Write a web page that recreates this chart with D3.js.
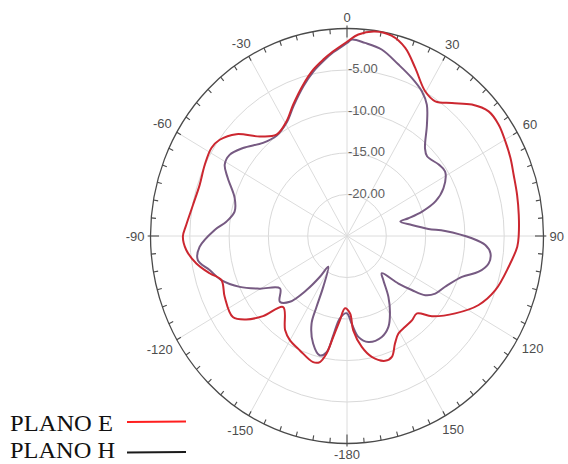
<!DOCTYPE html>
<html>
<head>
<meta charset="utf-8">
<script src="https://cdn.jsdelivr.net/npm/d3@7"></script>
<style>
  html, body { margin: 0; padding: 0; background: #ffffff; }
  svg { display: block; }
</style>
</head>
<body>
<svg id="chart" width="568" height="464"></svg>
<script>
// Radiation pattern, gain in dB versus angle (degrees, clockwise from 0 at the top)
const eAngles = [0, 3.4, 8.2, 13.2, 18.1, 23.2, 29.7, 34.7, 39.8, 45.1, 50.2, 55.2, 60.5, 65.7, 70.8,
  77.1, 83.4, 89.7, 93.4, 100.2, 109.1, 116.4, 124.1, 131.8, 136.3, 140.9, 145.9, 150.9, 154.7, 158.6,
  162.1, 167.8, 172.0, 176.0, 177.6, 181.7, 185.1, 188.2, 190.4, 192.8, 195.8, 203.5, 210.1, 214.8, 223.5,
  227.9, 231.9, 236.1, 244.8, 251.6, 255.6, 260.2, 265.3, 269.8, 273.7, 280.8, 288.2, 295.4, 301.6, 305.6,
  311.1, 317.2, 323.7, 330.8, 336.6, 343.0, 347.9, 351.9, 355.5];
const eGain = [-1.6, -0.68, -0.1, -0.2, -1.15, -2.97, -4.93, -5.27, -4.15, -2.57, -1.55, -1.5, -1.85, -2.18, -2.55,
  -2.8, -3.0, -3.15, -3.3, -4.1, -5.03, -6.3, -8.37, -10.5, -12.1, -11.9, -11.8, -11.55, -10.7, -9.35,
  -9.2, -10.1, -11.5, -13.6, -15.65, -16.3, -14.8, -12.7, -10.6, -9.43, -9.2, -9.97, -10.5, -11.2, -13.2,
  -10.6, -8.7, -7.5, -7.8, -8.16, -6.95, -5.55, -4.48, -4.12, -4.5, -5.05, -5.27, -4.97, -4.75, -5.08,
  -6.33, -8.65, -9.85, -9.2, -7.75, -5.93, -4.5, -3.53, -2.68];

const hAngles = [0, 1.5, 5.6, 11.1, 17.6, 23.4, 28.7, 32.7, 37.2, 43.2, 46.7, 53.6, 58.1, 64.9, 69.7,
  72.9, 74.7, 75.6, 80.9, 85.3, 87.2, 91.0, 93.5, 96.5, 100.4, 104.4, 108.6, 116.1, 121.7, 125.6,
  128.3, 131.2, 135.5, 139.0, 144.3, 149.6, 154.3, 160.0, 168.0, 173.2, 176.7, 180.2, 185.2, 188.3, 190.5,
  193.5, 198.4, 203.1, 204.4, 206.3, 212.8, 215.0, 218.3, 222.5, 227.2, 233.5, 240.3, 245.8, 251.6, 256.8,
  261.3, 266.0, 272.5, 276.4, 281.6, 287.7, 294.7, 298.9, 303.2, 308.7, 316.4, 323.4, 330.8, 336.6, 343.0,
  347.9, 351.9, 355.5];
const hGain = [-1.75, -1.32, -1.62, -2.1, -3.33, -4.25, -5.15, -6.2, -8.18, -10.5, -11.0, -10.5, -10.3, -11.45, -13.0,
  -15.0, -16.9, -18.0, -16.65, -14.6, -12.5, -9.1, -7.37, -6.63, -6.68, -7.7, -9.57, -11.1, -11.8, -12.75,
  -14.5, -16.3, -18.7, -17.95, -15.97, -14.2, -12.85, -12.06, -11.94, -12.76, -14.4, -15.7, -15.05, -12.9, -10.76,
  -10.2, -11.35, -13.5, -15.6, -18.2, -20.6, -19.0, -16.7, -14.25, -13.35, -14.4, -12.2, -10.04, -8.16, -7.05,
  -5.8, -6.2, -8.15, -9.55, -10.4, -10.0, -8.3, -7.23, -7.15, -8.05, -9.5, -9.95, -9.3, -7.9, -6.1,
  -4.7, -3.7, -2.8];

const ringLevels = [-5, -10, -15, -20];
const angleTickValues = [0, 30, 60, 90, 120, 150, 180, 210, 240, 270, 300, 330];
const angleTickLabels = ["0", "30", "60", "90", "120", "150", "-180", "-150", "-120", "-90", "-60", "-30"];
const legendNames = ["PLANO E", "PLANO H"];

const svg = d3.select("#chart");
const cx = 347, cy = 236;     // centre of the plot
const rx = 196.5, ry = 207.5; // horizontal / vertical radius of the outer (0 dB) ring

const rScale = d3.scaleLinear().domain([-25, 0]).range([0, 1]);
const toRad = d => d * Math.PI / 180;
const px = (deg, n) => cx + rx * n * Math.sin(toRad(deg));
const py = (deg, n) => cy - ry * n * Math.cos(toRad(deg));

const grid = svg.append("g");

// concentric gain rings
grid.selectAll("ellipse.ring").data(ringLevels).join("ellipse")
  .attr("cx", cx).attr("cy", cy)
  .attr("rx", d => rx * rScale(d)).attr("ry", d => ry * rScale(d))
  .attr("fill", "none").attr("stroke", "#d9d9d9").attr("stroke-width", 1);

// radial spokes
grid.selectAll("line.spoke").data(angleTickValues).join("line")
  .attr("x1", cx).attr("y1", cy)
  .attr("x2", d => px(d, 1)).attr("y2", d => py(d, 1))
  .attr("stroke", "#dcdcdc").attr("stroke-width", 1);

// outer ring
grid.append("ellipse")
  .attr("cx", cx).attr("cy", cy).attr("rx", rx).attr("ry", ry)
  .attr("fill", "none").attr("stroke", "#4a4a4a").attr("stroke-width", 1.3);

// angular ticks every 5 degrees, pointing inward
const tickAngles = d3.range(0, 360, 5);
grid.selectAll("line.tick").data(tickAngles).join("line")
  .attr("x1", d => px(d, d % 90 === 0 ? 1 + 3 / ry : 1))
  .attr("y1", d => py(d, d % 90 === 0 ? 1 + 3 / ry : 1))
  .attr("x2", d => px(d, 1 - (d % 90 === 0 ? 9 : 5) / ry))
  .attr("y2", d => py(d, 1 - (d % 90 === 0 ? 9 : 5) / ry))
  .attr("stroke", "#4a4a4a").attr("stroke-width", 1.1);

// angle labels placed just outside the outer ring
const angLabels = svg.append("g")
  .attr("font-family", "Liberation Sans, Arial, sans-serif")
  .attr("font-size", 13).attr("fill", "#4d4d4d");
angleTickValues.forEach((a, i) => {
  const t = angLabels.append("text")
    .attr("text-anchor", "middle").attr("dominant-baseline", "central")
    .text(angleTickLabels[i]);
  const w = t.node().getComputedTextLength();
  const s = Math.sin(toRad(a)), c = Math.cos(toRad(a));
  const off = 6 + (w / 2) * Math.abs(s) + 5 * Math.abs(c);
  t.attr("x", px(a, 1) + off * s).attr("y", py(a, 1) - off * c);
});

// gain ring labels along the 0 degree spoke
svg.append("g")
  .attr("font-family", "Liberation Sans, Arial, sans-serif")
  .attr("font-size", 13).attr("fill", "#5e5e5e")
  .selectAll("text").data(ringLevels).join("text")
  .attr("x", cx + 1)
  .attr("y", d => py(0, rScale(d)) + 3)
  .text(d => d.toFixed(2));

// pattern traces
const line = d3.line()
  .x(d => px(d[0], rScale(d[1])))
  .y(d => py(d[0], rScale(d[1])))
  .curve(d3.curveCatmullRomClosed.alpha(0.5));

const hData = hAngles.map((a, i) => [a, hGain[i]]);
const eData = eAngles.map((a, i) => [a, eGain[i]]);

svg.append("path").datum(hData)
  .attr("d", line).attr("fill", "none")
  .attr("stroke", "#765a82").attr("stroke-width", 2).attr("stroke-linejoin", "round");
svg.append("path").datum(eData)
  .attr("d", line).attr("fill", "none")
  .attr("stroke", "#cc2730").attr("stroke-width", 2).attr("stroke-linejoin", "round");

// legend
const legend = svg.append("g");
const legendColors = ["#ff1f1f", "#1a1a1a"];
const legendY = [431, 458];
const legendLineY = [421.7, 452.3];
legendNames.forEach((name, i) => {
  legend.append("text")
    .attr("x", 10).attr("y", legendY[i])
    .attr("font-family", "Liberation Serif, Times New Roman, serif")
    .attr("font-size", 23).attr("fill", "#111")
    .attr("textLength", i === 0 ? 103 : 105).attr("lengthAdjust", "spacingAndGlyphs")
    .text(name);
  legend.append("line")
    .attr("x1", 127).attr("x2", 186)
    .attr("y1", legendLineY[i] + 0.3).attr("y2", legendLineY[i] - 0.3)
    .attr("stroke", legendColors[i]).attr("stroke-width", 2);
});
</script>
</body>
</html>
